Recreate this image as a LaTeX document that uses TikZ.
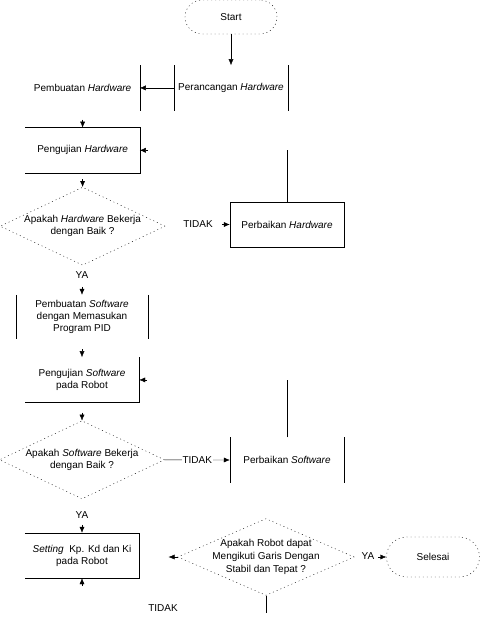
\documentclass[tikz,border=0pt]{standalone}
\usepackage{fontspec}
\setmainfont{Liberation Sans}
\usetikzlibrary{positioning, shapes.geometric, arrows.meta}

\begin{document}
\begin{tikzpicture}[
		x=1pt, y=-1pt,
		every node/.style={font=\fontsize{10}{12}\selectfont},
		box/.style={rectangle, minimum width=114pt, minimum height=45pt, inner sep=2pt, align=center},
		terminal/.style={rectangle, draw, dash pattern=on 1pt off 3pt, align=center},
		decision/.style={diamond, draw, dash pattern=on 1pt off 3pt, aspect=2.1, inner sep=0pt, minimum width=165pt, minimum height=78pt, align=center},
		answer/.style={inner sep=1pt},
		arrow/.style={-{Latex[length=6pt,width=5pt]}}
		]
		\useasboundingbox (0,0) rectangle (481,630);
		
		% Nodes
		\node[terminal, rounded corners=17pt, minimum width=92pt, minimum height=34pt] (start) at (231,17) {Start};
		\node[box, below=31pt of start] (rancang) {Perancangan \textit{Hardware}};
		\node[box, left=34pt of rancang] (buathw) {Pembuatan \textit{Hardware}};
		\node[box, below=17pt of buathw] (ujihw) {Pengujian \textit{Hardware}};
		\node[decision, below=14pt of ujihw] (cekhw) {Apakah \textit{Hardware} Bekerja\\dengan Baik ?};
		\node[answer] (tidakhw) at (198,224) {TIDAK};
		\node[box, draw] (perbhw) at (287,224.5) {Perbaikan \textit{Hardware}};
		\node[answer] (yahw) at (82,275) {YA};
		
		\node[box, minimum width=131pt, minimum height=44pt] (buatsw) at (82,317) {Pembuatan \textit{Software}\\dengan Memasukan\\Program PID};
		\node[box, below=18pt of buatsw] (ujisw) {Pengujian \textit{Software}\\pada Robot};
		\node[decision, below=18pt of ujisw] (ceksw) {Apakah \textit{Software} Bekerja\\dengan Baik ?};
		\node[box] (perbsw) at (287,460) {Perbaikan \textit{Software}};
		\node[answer] (yasw) at (82,515) {YA};
		
		\node[box] (setting) at (82,555.5) {\textit{Setting} \ Kp. Kd dan Ki\\pada Robot};
		\node[decision, aspect=2.3, minimum width=170pt, minimum height=74pt, inner xsep=-6pt, font=\fontsize{10}{13}\selectfont] (cekrobot) at (266,557) {Apakah Robot dapat\\Mengikuti Garis Dengan\\Stabil dan Tepat ?};
		\node[answer] (yarobot) at (368,556) {YA};
		\node[terminal, rounded corners=20pt, minimum width=93pt, minimum height=40pt] (selesai) at (433,557) {Selesai};
		\node[answer] (tidakrobot) at (163,608) {TIDAK};
		
		% Box sides
		\draw (rancang.north west) -- (rancang.south west) (rancang.north east) -- (rancang.south east);
		\draw (buathw.north east) -- (buathw.south east);
		\draw (ujihw.north west) -- (ujihw.north east) -- (ujihw.south east) -- (ujihw.south west);
		\draw (buatsw.north west) -- (buatsw.south west) (buatsw.north east) -- (buatsw.south east);
		\draw (ujisw.north east) -- (ujisw.south east) -- (ujisw.south west);
		\draw (perbsw.north west) -- (perbsw.south west) (perbsw.north east) -- (perbsw.south east);
		\draw (setting.north west) -- (setting.north east) -- (setting.south east) -- (setting.south west);
		
		% Arrows
		\draw[arrow] (start) -- (rancang);
		\draw[arrow] (rancang) -- (buathw);
		\draw[arrow] ([yshift=8pt]ujihw.north) -- (ujihw.north);
		\draw (perbhw.north) -- (perbhw.north |- ujihw.east);
		\draw[arrow] ([xshift=8pt]ujihw.east) -- (ujihw.east);
		\draw[arrow] ([yshift=8pt]cekhw.north) -- (cekhw.north);
		\draw[arrow] ([xshift=-8pt]perbhw.west) -- (perbhw.west);
		\draw[arrow] ([yshift=8pt]buatsw.north) -- (buatsw.north);
		\draw[arrow] ([yshift=8pt]ujisw.north) -- (ujisw.north);
		\draw (perbsw.north) -- (perbsw.north |- ujisw.east);
		\draw[arrow] ([xshift=8pt]ujisw.east) -- (ujisw.east);
		\draw[arrow] ([yshift=8pt]ceksw.north) -- (ceksw.north);
		\draw[arrow] (ceksw.east) -- node[answer, fill=white] {TIDAK} (perbsw.west);
		\draw[arrow] ([yshift=8pt]setting.north) -- (setting.north);
		\draw[arrow] ([yshift=-8pt]setting.south) -- (setting.south);
		\draw[arrow] (cekrobot.west) -- ++(-9,0);
		\draw[arrow] ([xshift=-8pt]selesai.west) -- (selesai.west);
		\draw (cekrobot.south) -- ++(0,17);
		
	\end{tikzpicture}
\end{document}
